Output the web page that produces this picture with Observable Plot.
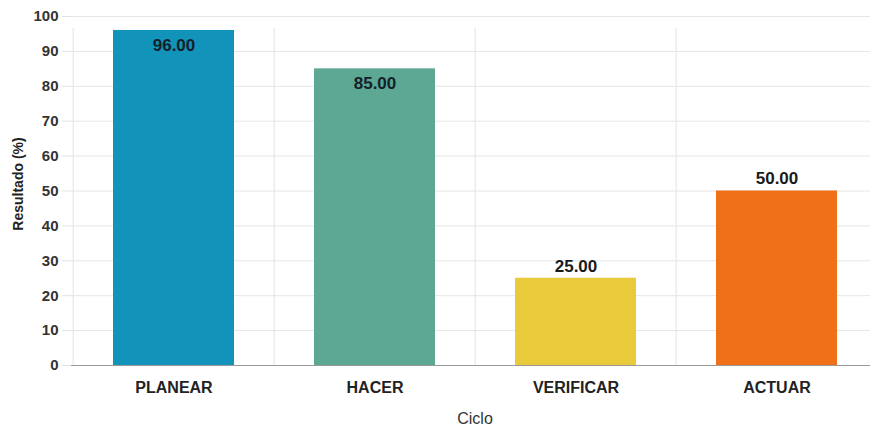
<!DOCTYPE html>
<html>
<head>
<meta charset="utf-8">
<script src="https://cdn.jsdelivr.net/npm/d3@7"></script>
<script src="https://cdn.jsdelivr.net/npm/@observablehq/plot@0.6"></script>
<style>
  html, body { margin: 0; padding: 0; background: #fff; overflow: hidden; }
  #chart { width: 870px; height: 427px; overflow: hidden; }
  #chart svg { max-width: none !important; display: block; }
</style>
</head>
<body>
<div id="chart"></div>
<script>
const categories = ["PLANEAR", "HACER", "VERIFICAR", "ACTUAR"];
const values = [96, 85, 25, 50];
const colors = ["#1193ba", "#5ca893", "#e8ca3a", "#f06f19"];
const yTicks = [0, 10, 20, 30, 40, 50, 60, 70, 80, 90, 100];
const yLabel = "Resultado (%)";
const xLabel = "Ciclo";

const data = categories.map((c, i) => ({ cat: c, value: values[i] }));

const W = 878, ML = 71, MR = 0;
const step = (W - ML - MR) / categories.length;

const chart = Plot.plot({
  width: W,
  height: 427,
  marginLeft: ML,
  marginRight: MR,
  marginTop: 16,
  marginBottom: 62,
  style: { fontFamily: "'Liberation Sans', Arial, sans-serif", background: "#fff", maxWidth: "none" },
  x: { domain: categories, paddingInner: 0.4, paddingOuter: 0.2, label: null },
  y: { domain: [0, 100], label: null },
  color: { domain: categories, range: colors },
  marks: [
    Plot.ruleY(yTicks, { stroke: "#e6e6e6", strokeWidth: 1 }),
    Plot.ruleX(categories, { x: d => d, y1: 0, y2: 100, dx: -step / 2, insetBottom: -12, stroke: "#e3e3e3" }),
    Plot.axisY(yTicks, { tickSize: 9, tickPadding: 4, stroke: "#e3e3e3", fill: "#333", fontSize: 15, fontWeight: "bold", label: null }),
    Plot.axisX({ tickSize: 0, tickPadding: 16, fontSize: 16, fontWeight: "bold", fill: "#222", label: null }),
    Plot.barY(data, { x: "cat", y: "value", fill: "cat" }),
    Plot.ruleY([0], { stroke: "#9a9a9a", strokeWidth: 1.2 }),
    Plot.text(data.filter(d => d.value > 80), { x: "cat", y: "value", text: d => d.value.toFixed(2), dy: 15, fontSize: 17, fontWeight: "bold", fill: "#14202a" }),
    Plot.text(data.filter(d => d.value <= 80), { x: "cat", y: "value", text: d => d.value.toFixed(2), dy: -12, fontSize: 17, fontWeight: "bold", fill: "#1a1a1a" }),
    Plot.text([yLabel], { frameAnchor: "left", textAnchor: "middle", lineAnchor: "middle", dx: -53, dy: -7, rotate: -90, text: d => d, fontSize: 14, fontWeight: "bold", fill: "#222" }),
    Plot.text([xLabel], { frameAnchor: "bottom", lineAnchor: "middle", dy: 53, text: d => d, fontSize: 16, fill: "#333" })
  ]
});
document.getElementById("chart").appendChild(chart);
</script>
</body>
</html>
